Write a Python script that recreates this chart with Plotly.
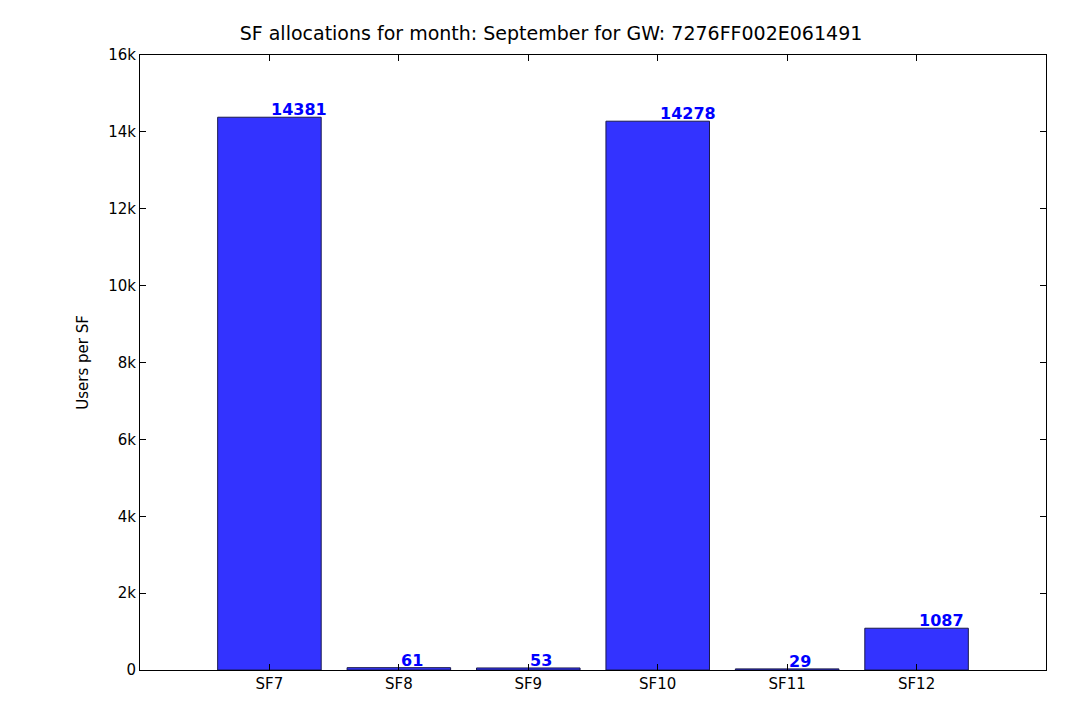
import plotly.graph_objects as go

categories = ["SF7", "SF8", "SF9", "SF10", "SF11", "SF12"]
users = [14381, 61, 53, 14278, 29, 1087]

FONT = "DejaVu Sans"
idx = list(range(len(categories)))

fig = go.Figure()
fig.add_trace(go.Bar(
    x=idx, y=users, width=0.8,
    marker=dict(color="#3333ff", line=dict(color="#1a1a4d", width=1)),
))

for i, v in zip(idx, users):
    fig.add_annotation(x=i, y=v, text=f"<b>{v}</b>", showarrow=False,
                       xanchor="left", yanchor="bottom", yshift=-4,
                       font=dict(family=FONT, size=16, color="blue"))

axis_common = dict(showline=True, linecolor="black", linewidth=1, mirror="ticks",
                   ticks="inside", ticklen=6, tickcolor="black", showgrid=False,
                   zeroline=False, tickfont=dict(family=FONT, size=15, color="black"))

fig.update_layout(
    width=1086, height=710,
    margin=dict(l=132, r=48, t=47, b=48),
    paper_bgcolor="white", plot_bgcolor="white",
    showlegend=False,
    title=dict(text="SF allocations for month: September for GW: 7276FF002E061491",
               x=0.5, xanchor="center", y=0.965, yanchor="middle",
               font=dict(family=FONT, size=19, color="black")),
    xaxis=dict(range=[-1, 6], tickvals=idx, ticktext=categories, **axis_common),
    yaxis=dict(range=[0, 16000], dtick=2000, title=dict(text="Users per SF",
               font=dict(family=FONT, size=15, color="black")), **axis_common),
)

fig.write_html("out.html")
